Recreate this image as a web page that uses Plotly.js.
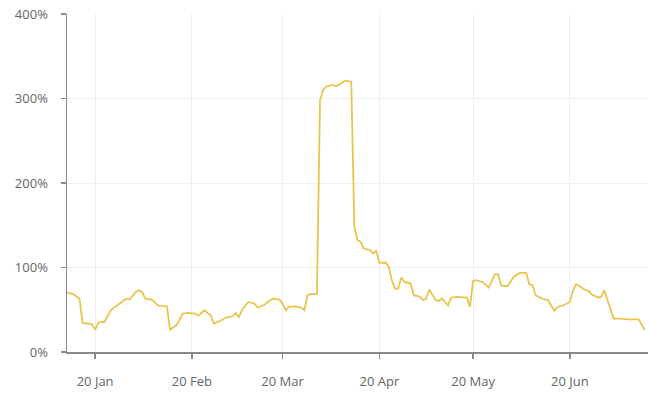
<!DOCTYPE html>
<html>
<head>
<meta charset="utf-8">
<script src="https://cdn.plot.ly/plotly-3.0.1.min.js"></script>
<style>html,body{margin:0;padding:0;background:#fff;}#chart{width:650px;height:411px;}</style>
</head>
<body>
<div id="chart"></div>
<script>
const dates = [
"2020-01-11","2020-01-13","2020-01-15","2020-01-16","2020-01-18","2020-01-19","2020-01-20","2020-01-21","2020-01-22","2020-01-23",
"2020-01-25","2020-01-27","2020-01-29","2020-01-30","2020-01-31","2020-02-02","2020-02-03","2020-02-04","2020-02-05","2020-02-07",
"2020-02-08","2020-02-09","2020-02-10","2020-02-12","2020-02-13","2020-02-15","2020-02-16","2020-02-17","2020-02-19","2020-02-20",
"2020-02-21","2020-02-22","2020-02-24","2020-02-25","2020-02-26","2020-02-27","2020-02-29","2020-03-02","2020-03-04","2020-03-05",
"2020-03-06","2020-03-07","2020-03-09","2020-03-11","2020-03-12","2020-03-14","2020-03-15","2020-03-17","2020-03-19","2020-03-20",
"2020-03-21","2020-03-22","2020-03-24","2020-03-26","2020-03-27","2020-03-28","2020-03-29","2020-03-31","2020-04-01","2020-04-02",
"2020-04-03","2020-04-05","2020-04-06","2020-04-07","2020-04-08","2020-04-09","2020-04-11","2020-04-12","2020-04-13","2020-04-14",
"2020-04-15","2020-04-17","2020-04-18","2020-04-19","2020-04-20","2020-04-22","2020-04-23","2020-04-24","2020-04-25","2020-04-26",
"2020-04-27","2020-04-28","2020-04-30","2020-05-01","2020-05-03","2020-05-04","2020-05-05","2020-05-06","2020-05-08","2020-05-09",
"2020-05-10","2020-05-11","2020-05-12","2020-05-13","2020-05-15","2020-05-18","2020-05-19","2020-05-20","2020-05-21","2020-05-23",
"2020-05-24","2020-05-25","2020-05-27","2020-05-28","2020-05-29","2020-05-31","2020-06-02","2020-06-04","2020-06-06","2020-06-07",
"2020-06-08","2020-06-09","2020-06-11","2020-06-13","2020-06-15","2020-06-16","2020-06-18","2020-06-20","2020-06-21","2020-06-22",
"2020-06-23","2020-06-25","2020-06-26","2020-06-27","2020-06-29","2020-06-30","2020-07-01","2020-07-04","2020-07-06","2020-07-09",
"2020-07-12","2020-07-14"
];
const values = [
70.4,68.4,63.3,34.4,33.6,32.8,26.5,34.4,35.5,35.5,
49.4,55.3,60.1,63.3,62.1,71.1,73.1,71.1,63.3,62.1,
59.2,55.3,54.5,54.1,26.5,31.6,37.6,45.5,46.2,46.2,
45.5,43.1,49.4,46.2,43.5,33.6,36.7,40.8,42.3,46.2,
41.5,49.4,59.2,57.3,52.6,55.3,58.5,63.3,62.1,57.3,
49.4,53.3,54.1,52.6,49.4,67.2,68.4,68.4,298.2,310.1,
314.0,316.0,314.8,316.0,318.7,321.1,319.9,148.1,132.3,130.3,
122.5,120.5,116.6,119.7,105.5,105.9,100.7,85.0,75.1,75.1,
88.2,82.9,81.0,67.2,65.2,61.3,63.3,73.9,61.3,60.4,
63.3,59.2,55.3,64.5,65.2,64.5,53.3,84.1,85.0,82.9,
79.0,76.3,92.1,92.1,78.4,77.8,88.9,93.6,93.6,80.2,
79.0,67.2,63.3,61.3,48.6,53.3,55.3,59.2,73.1,80.2,
78.2,73.1,72.3,68.0,64.5,65.2,73.1,39.6,39.6,38.7,
38.7,25.7
];
const xTickVals = ["2020-01-20","2020-02-20","2020-03-20","2020-04-20","2020-05-20","2020-06-20"];
const xTickText = ["20 Jan","20 Feb","20 Mar","20 Apr","20 May","20 Jun"];
const yTickVals = [0,100,200,300,400];
const yTickText = ["0%","100%","200%","300%","400%"];

const trace = {
  x: dates, y: values, type: "scatter", mode: "lines",
  line: {color: "#E8C54E", width: 1.8, shape: "linear"},
  hoverinfo: "skip"
};
const layout = {
  width: 650, height: 411,
  margin: {l: 67, r: 2, t: 14, b: 59},
  paper_bgcolor: "#ffffff", plot_bgcolor: "#ffffff",
  showlegend: false,
  font: {family: "Open Sans, sans-serif", color: "#666666", size: 13},
  xaxis: {
    type: "date", range: ["2020-01-11", "2020-07-15"],
    tickvals: xTickVals, ticktext: xTickText,
    showgrid: true, gridcolor: "#eeeeee", gridwidth: 1,
    showline: true, linecolor: "#8a8a8a", linewidth: 1.5,
    ticks: "outside", ticklen: 5, tickcolor: "#8a8a8a", tickwidth: 1.5,
    ticklabelstandoff: 12, zeroline: false,
    tickfont: {family: "Open Sans, sans-serif", size: 13, color: "#666666"}
  },
  yaxis: {
    range: [0, 400], tickvals: yTickVals, ticktext: yTickText,
    showgrid: true, gridcolor: "#eeeeee", gridwidth: 1,
    showline: true, linecolor: "#8a8a8a", linewidth: 1.5,
    ticks: "outside", ticklen: 5, tickcolor: "#8a8a8a", tickwidth: 1.5,
    ticklabelstandoff: 10, zeroline: false,
    tickfont: {family: "Open Sans, sans-serif", size: 13, color: "#666666"}
  }
};
Plotly.newPlot("chart", [trace], layout, {displayModeBar: false, staticPlot: true});
</script>
</body>
</html>
